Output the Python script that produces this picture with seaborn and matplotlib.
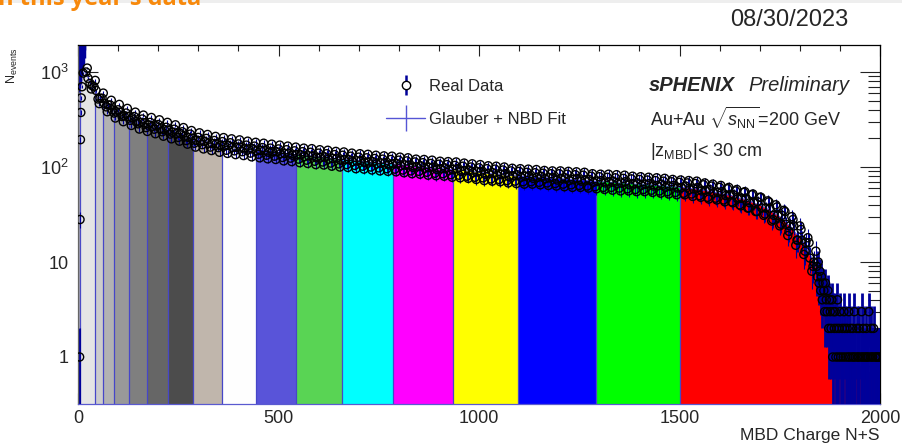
import numpy as np
import matplotlib
matplotlib.use("Agg")
import matplotlib.pyplot as plt
import seaborn as sns
from matplotlib.lines import Line2D
from matplotlib.legend_handler import HandlerTuple
from matplotlib.patches import Rectangle
from matplotlib.path import Path
from matplotlib.ticker import FixedLocator, MultipleLocator, LogLocator, NullFormatter

# ---------------- data ----------------
# centrality bin edges (MBD charge) and ROOT fill colours
centrality_edges = [0, 5, 42, 63, 90, 126, 171, 224, 286, 360, 445, 544, 658,
                    786, 935, 1097, 1292, 1500, 2000]
centrality_colors = ["#f2f2f2", "#e5e5e5", "#cccccc", "#b2b2b2", "#999999",
                     "#7f7f7f", "#666666", "#4c4c4c", "#c0b6ac", "#fefefe",
                     "#5954d9", "#59d454", "#00ffff", "#ff00ff", "#ffff00",
                     "#0000ff", "#00ff00", "#ff0000"]

# Glauber + NBD fit
fit_x = [0, 5, 10, 15] + list(range(20, 2001, 10))
fit_y = [2500, 2200, 1500, 1050,
         960, 800, 680, 560, 500, 460, 420, 395, 380,
         362, 345, 330, 315, 302, 293, 285, 277, 270, 262,
         254, 246, 239, 232, 225, 217, 210, 202, 195, 191,
         187, 183, 179, 175, 172, 170, 167, 165, 163, 161,
         159, 156, 154, 152, 150, 148, 147, 145, 144, 142,
         140, 138, 137, 135, 134, 132, 131, 130, 128, 127,
         126, 125, 123, 122, 121, 120, 119, 117, 116, 115,
         114, 113, 112, 111, 110, 109, 108, 108, 107, 106,
         105, 104, 102, 101, 101, 100, 99, 98, 97, 96,
         96, 95, 94, 94, 93, 92, 91, 90, 89, 88,
         87, 86, 85, 85, 84, 83, 82, 81, 81, 80,
         80, 79, 79, 78, 78, 77, 77, 76, 76, 76,
         75, 75, 74, 74, 73, 73, 72, 71, 71, 70,
         70, 70, 69, 69, 68, 68, 67, 67, 66, 66,
         66, 65, 65, 64, 64, 63, 63, 62, 62, 61,
         61, 60, 59, 59, 58, 57, 56, 55, 54, 53,
         52, 51, 50, 48, 47, 46, 44, 43, 41, 40,
         38, 36, 34, 32, 30, 28, 25, 23, 20, 18,
         16, 13, 11, 9, 7, 5.5, 4.2, 3,
         2.3, 1.8, 1.4, 1.1, 0.95, 0.85, 0.8, 0.75, 0.7, 0.65, 0.6, 0.55]

# real data: first bins
near_x = [4, 5, 6, 7, 8, 10, 13]
near_y = [1, 28, 194, 375, 534, 700, 975]

# real data: main body (bins at 20, 30, ...)
main_x = list(range(20, 1841, 10))
main_y = [1000, 760, 700, 520, 530, 430, 450, 370, 400,
          340, 370, 310, 340, 285, 320, 260, 295, 250, 280,
          235, 262, 222, 250, 205, 235, 190, 222, 178, 205,
          172, 200, 162, 190, 160, 185, 150, 180, 148, 175,
          145, 170, 140, 166, 136, 160, 133, 158, 130, 155,
          126, 152, 124, 148, 121, 145, 118, 143, 115, 140,
          113, 138, 110, 135, 108, 133, 106, 130, 104, 127,
          102, 125, 100, 123, 98, 121, 96, 120, 95, 118,
          93, 116, 91, 113, 90, 111, 88, 109, 86, 107,
          85, 106, 83, 104, 82, 102, 80, 100, 78, 98,
          77, 96, 75, 95, 74, 93, 72, 91, 71, 90,
          70, 88, 70, 87, 69, 86, 68, 85, 67, 85,
          66, 84, 65, 83, 64, 82, 63, 80, 62, 79,
          61, 78, 61, 77, 60, 76, 59, 75, 58, 74,
          58, 73, 57, 72, 56, 71, 55, 70, 54, 69,
          53, 68, 52, 67, 50, 65, 48, 63, 47, 61,
          45, 59, 43, 56, 40, 54, 37, 51, 34, 48,
          31, 44, 27, 40, 24, 35, 19, 30, 15, 24,
          12, 18, 8, 13]

# real data: main body (bins at 25, 35, ...)
main2_x = list(range(25, 1836, 10))
main2_y = [860, 720, 640, 530, 470, 450, 400, 380,
           378, 345, 338, 330, 300, 295, 292, 276, 268, 272,
           253, 247, 245, 232, 226, 226, 210, 205, 201, 190,
           189, 187, 178, 176, 176, 168, 168, 169, 161, 161,
           162, 155, 155, 156, 148, 149, 150, 143, 145, 145,
           138, 139, 140, 133, 135, 135, 129, 131, 131, 125,
           127, 128, 121, 123, 124, 118, 120, 120, 114, 116,
           117, 111, 113, 114, 108, 110, 111, 105, 108, 109,
           103, 105, 105, 99, 101, 103, 97, 99, 100, 94,
           96, 98, 92, 94, 96, 90, 92, 93, 87, 89,
           90, 84, 86, 87, 82, 84, 85, 79, 81, 83,
           78, 80, 81, 76, 78, 80, 75, 77, 78, 73,
           76, 77, 72, 74, 76, 71, 73, 74, 69, 71,
           72, 68, 70, 71, 67, 68, 70, 65, 67, 68,
           64, 66, 67, 63, 64, 66, 61, 63, 64, 60,
           61, 63, 58, 59, 61, 56, 57, 58, 53, 54,
           55, 50, 51, 51, 46, 47, 47, 42, 42, 43,
           37, 37, 37, 31, 31, 31, 25, 24, 24, 17,
           17, 16, 11, 10]

# real data: main body (bins at 23, 33, ...), the outer fluctuations
main3_x = list(range(23, 1834, 10))
main3_y = [1100, 664, 816, 465, 600, 382, 504, 328, 456,
           300, 414, 274, 378, 251, 352, 237, 332, 224, 314,
           211, 295, 198, 278, 187, 260, 174, 242, 162, 229,
           155, 220, 149, 210, 143, 204, 139, 198, 135, 193,
           132, 187, 128, 182, 125, 178, 122, 174, 120, 170,
           116, 166, 114, 162, 111, 158, 109, 156, 106, 152,
           105, 150, 102, 146, 100, 144, 99, 140, 96, 138,
           95, 136, 93, 133, 91, 131, 90, 130, 89, 127,
           87, 125, 85, 121, 84, 120, 82, 118, 81, 115,
           80, 114, 78, 113, 77, 110, 76, 108, 74, 106,
           72, 103, 71, 102, 70, 100, 68, 97, 67, 96,
           66, 95, 66, 94, 65, 92, 64, 91, 63, 91,
           62, 90, 61, 89, 61, 88, 60, 85, 59, 84,
           58, 84, 57, 83, 56, 82, 56, 80, 55, 79,
           55, 78, 54, 77, 53, 76, 52, 74, 51, 73,
           51, 72, 49, 71, 48, 68, 46, 66, 45, 64,
           43, 61, 42, 58, 39, 55, 37, 52, 34, 48,
           32, 43, 28, 38, 25, 34, 21, 28, 17, 22,
           13, 16, 9]

# real data: low-count tail
tail_x = list(range(1842, 2001, 2))
tail_n = [9, 7, 10, 6, 8, 5, 7, 4, 6, 5,
          3, 6, 4, 3, 5, 2, 4, 3, 2, 4,
          1, 3, 2, 3, 1, 2, 4, 1, 2, 3,
          1, 0, 2, 1, 3, 2, 1, 0, 2, 1,
          3, 1, 2, 0, 1, 2, 1, 3, 1, 0,
          2, 1, 1, 2, 0, 1, 3, 1, 2, 1,
          0, 1, 2, 1, 1, 3, 0, 1, 2, 1,
          1, 2, 0, 1, 1, 0, 1, 1, 0, 1]

# off-scale first bins (navy error bars reaching above the frame)
zero_x = [0, 2, 4, 6, 8, 10, 12, 14, 16]
zero_lo = [620, 680, 740, 810, 900, 1050, 1200, 1400, 1700]

ytick_vals = [1, 10, 100, 1000]
ytick_labels = ["1", "10", r"$10^{2}$", r"$10^{3}$"]

NAVY = "#00009a"
FITBLUE = "#5555d5"
EDGE = "#4646c8"

# ---------------- style ----------------
sns.set_style("ticks")
plt.rcParams.update({
    "font.family": ["Liberation Sans", "DejaVu Sans"],
    "mathtext.fontset": "custom",
    "mathtext.rm": "Liberation Sans",
    "mathtext.it": "Liberation Sans:italic",
    "mathtext.bf": "Liberation Sans:bold",
    "mathtext.sf": "Liberation Sans",
})

fig = plt.figure(figsize=(9.02, 4.48), dpi=100)
fig.patches.append(Rectangle((0, 1 - 3 / 448), 1, 3 / 448, transform=fig.transFigure,
                             facecolor="#eeeeee", edgecolor="none", zorder=0))
ax = fig.add_axes([78 / 902, 1 - 404 / 448, 802 / 902, 359 / 448])
ax.set_yscale("log")
ax.set_xlim(0, 2000)
ax.set_ylim(0.32, 1925)

# centrality-bin filled areas under the fit
under = ax.fill_between(fit_x, fit_y, 1e-3, facecolor="none", edgecolor="none")
under_path = under.get_paths()[0]
for e0, e1, col in zip(centrality_edges[:-1], centrality_edges[1:], centrality_colors):
    poly = ax.fill_between(fit_x, fit_y, 1e-3, facecolor=col, edgecolor="none", zorder=1)
    band = Path([(e0, 1e-3), (e1, 1e-3), (e1, 1e6), (e0, 1e6), (e0, 1e-3)],
                closed=True)
    poly.set_clip_path(band, ax.transData)
edges_ln = ax.vlines(centrality_edges[1:-1], 1e-3, 1e6, colors=EDGE, lw=0.9, zorder=1.5)
edges_ln.set_clip_path(under_path, ax.transData)

# fit curve
sns.lineplot(x=fit_x, y=fit_y, ax=ax, color=FITBLUE, lw=0.8, zorder=2)

# off-scale first bins
ax.vlines(zero_x, zero_lo, 1e4, colors=NAVY, lw=2.5, zorder=2.5)
ax.vlines([1], 1e-3, 2, colors=NAVY, lw=2.5, zorder=2.5)
ax.vlines([2.5], 2, 700, colors="#9a9ab4", lw=0.8, zorder=2.4)

# real data
tx = np.array(tail_x)
tn = np.array(tail_n, dtype=float)
keep = tn > 0
body_x = np.array(near_x + main_x + main2_x + main3_x)
body_y = np.array(near_y + main_y + main2_y + main3_y, dtype=float)
ax.errorbar(body_x, body_y, yerr=np.sqrt(body_y), fmt="none", ecolor=NAVY,
            elinewidth=0.8, zorder=3)
ax.errorbar(tx[keep], tn[keep], yerr=np.sqrt(tn[keep]), fmt="none", ecolor=NAVY,
            elinewidth=2.0, zorder=3)
all_x = np.concatenate([body_x, tx[keep]])
all_y = np.concatenate([body_y, tn[keep]])
sns.scatterplot(x=all_x, y=all_y, ax=ax, marker="o", s=34, facecolors="none",
                edgecolor="black", linewidth=1.0, zorder=4, legend=False)

# axes & ticks
ax.xaxis.set_major_locator(MultipleLocator(500))
ax.xaxis.set_minor_locator(MultipleLocator(100))
ax.yaxis.set_major_locator(FixedLocator(ytick_vals))
ax.set_yticklabels(ytick_labels)
ax.yaxis.set_minor_locator(LogLocator(base=10, subs=np.arange(2, 10)))
ax.yaxis.set_minor_formatter(NullFormatter())
ax.tick_params(which="both", direction="in", top=True, right=True, width=0.8,
               color="#222222")
ax.tick_params(axis="x", which="major", length=8, labelsize=13, pad=4)
ax.tick_params(axis="x", which="minor", length=4.3)
ax.tick_params(axis="y", which="major", length=14.5, labelsize=13, pad=7)
ax.tick_params(axis="y", which="minor", length=8.5)
ax.set_axisbelow(True)
for s in ax.spines.values():
    s.set_linewidth(0.9)
    s.set_color("black")
ax.spines["bottom"].set_color("#5a5ad0")
ax.spines["left"].set_color("#666666")

ax.set_xlabel("MBD Charge N+S", fontsize=12.5, loc="right")
ax.xaxis.set_label_coords(1.0, -0.067)
ax.set_ylabel(r"N$_{\rm events}$", fontsize=9, loc="top")
ax.yaxis.label.set_va("center")
ax.yaxis.set_label_coords(-(78 - 12) / 802, 0.994)

# legend
h_data = (Line2D([], [], color=NAVY, marker="|", ms=14, mew=1.8, ls="none"),
          Line2D([], [], marker="o", ms=6, mfc="white", mec="black", mew=1, ls="none"))
h_fit = (Line2D([], [], color=FITBLUE, lw=1),
         Line2D([], [], color=FITBLUE, marker="|", ms=19, mew=1, ls="none"))
fig.legend([h_data, h_fit], ["Real Data", "Glauber + NBD Fit"],
           handler_map={tuple: HandlerTuple(ndivide=1)},
           loc="upper left", bbox_to_anchor=(386 / 902, 1 - 79 / 448),
           frameon=False, fontsize=12, handlelength=2.35, handletextpad=0.25,
           labelspacing=1.1, borderpad=0, borderaxespad=0)

# annotations
fig.text(649 / 902, 1 - 91 / 448, "sPHENIX", fontsize=14.5, fontweight="bold",
         style="italic", va="baseline")
fig.text(748 / 902, 1 - 91 / 448, "Preliminary", fontsize=14.5, style="italic",
         va="baseline")
fig.text(650 / 902, 1 - 126 / 448, r"Au+Au $\sqrt{s_{\rm NN}}$=200 GeV", fontsize=13,
         va="baseline")
fig.text(650 / 902, 1 - 156 / 448, r"|z$_{\rm MBD}$|< 30 cm", fontsize=13, va="baseline")
fig.text(848 / 902, 1 - 26.5 / 448, "08/30/2023", fontsize=17, ha="right", va="baseline")
fig.text(-2 / 902, 1 - 5 / 448, "n this year's data", color="#f7890c", fontsize=17,
         fontweight="bold", family=["Open Sans", "DejaVu Sans"], va="baseline")

fig.savefig("out.png", dpi=100)
